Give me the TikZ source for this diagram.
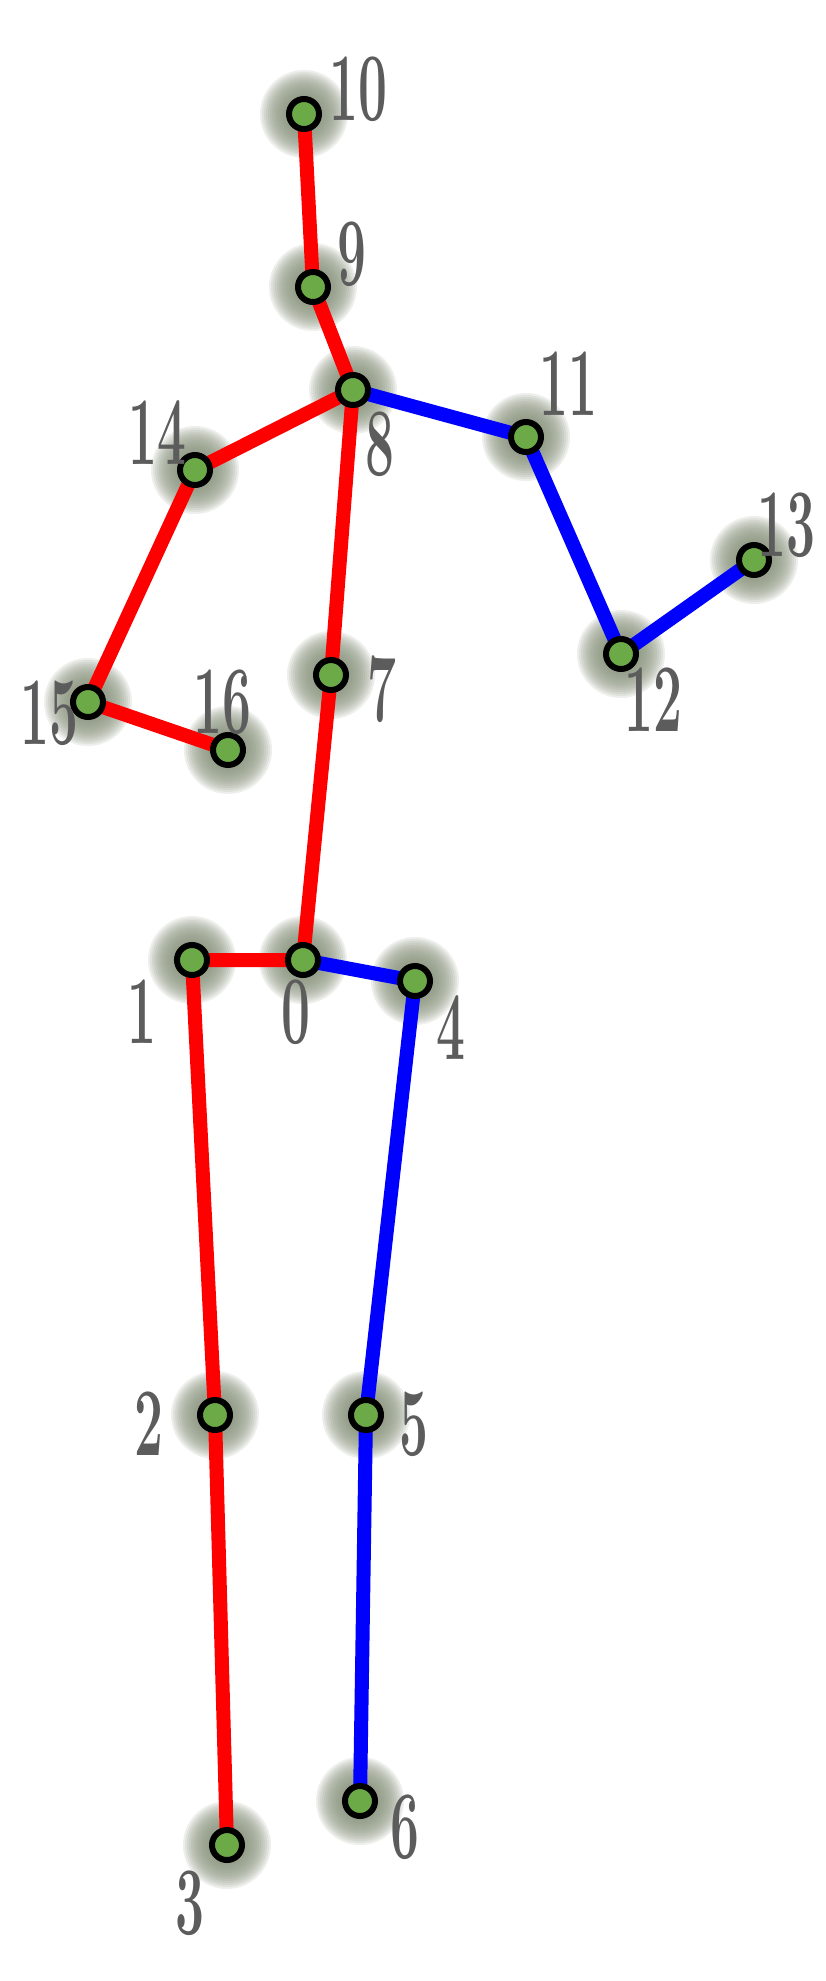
\documentclass[tikz,border=0pt]{standalone}
\usetikzlibrary{backgrounds}

\definecolor{jointgreen}{RGB}{108,170,72}
\definecolor{glowgray}{RGB}{138,148,126}
\definecolor{numgray}{RGB}{92,92,92}
\definecolor{bonered}{RGB}{255,0,0}
\definecolor{boneblue}{RGB}{0,0,255}

\tikzstyle{joint}=[shape=circle,draw=black,line width=6pt,fill=jointgreen,inner sep=0pt,minimum size=30pt]
\tikzstyle{num}=[text=numgray,inner sep=0pt,xscale=0.53,font=\fontsize{97}{97}\selectfont\bfseries]
\tikzstyle{redbone}=[draw=bonered,line width=14pt]
\tikzstyle{bluebone}=[draw=boneblue,line width=14pt]
\tikzstyle{glow}=[fill=glowgray,opacity=0.14]

\begin{document}
\begin{tikzpicture}[x=1pt,y=-1pt]
\useasboundingbox (0,0) rectangle (825,1981);
% joints
\node[joint] (j0) at (303,960) {};
\node[joint] (j1) at (192,960) {};
\node[joint] (j2) at (215,1415) {};
\node[joint] (j3) at (227,1845) {};
\node[joint] (j4) at (415,981) {};
\node[joint] (j5) at (366,1415) {};
\node[joint] (j6) at (360,1801) {};
\node[joint] (j7) at (331,675) {};
\node[joint] (j8) at (353,390) {};
\node[joint] (j9) at (313,287) {};
\node[joint] (j10) at (304,114) {};
\node[joint] (j11) at (526,437) {};
\node[joint] (j12) at (621,654) {};
\node[joint] (j13) at (754,560) {};
\node[joint] (j14) at (195,470) {};
\node[joint] (j15) at (88,702) {};
\node[joint] (j16) at (228,750) {};

% numbers
\node[num] (l0) at (296,1012) {0};
\node[num] (l1) at (142,1012) {1};
\node[num] (l2) at (149,1424) {2};
\node[num] (l3) at (190,1903) {3};
\node[num] (l4) at (451,1028) {4};
\node[num] (l5) at (414,1424) {5};
\node[num] (l6) at (405,1827) {6};
\node[num] (l7) at (382,689) {7};
\node[num] (l8) at (380,444) {8};
\node[num] (l9) at (352,254) {9};
\node[num] (l10) at (358,89) {10};
\node[num] (l11) at (568,384) {11};
\node[num] (l12) at (653,700) {12};
\node[num] (l13) at (786,525) {13};
\node[num] (l14) at (157,433) {14};
\node[num] (l15) at (49,713) {15};
\node[num] (l16) at (222,702) {16};

\begin{scope}[on background layer]
\fill[white] (0,0) rectangle (825,1981);
% soft glow round every joint
\foreach \j in {0,...,16}
    \foreach \r in {18,20,...,44}
        \fill[glow] (j\j.center) circle (\r);
% right side of the body
\draw[redbone] (j10.center) -- (j9.center) -- (j8.center) -- (j7.center) -- (j0.center) -- (j1.center) -- (j2.center) -- (j3.center);
\draw[redbone] (j8.center) -- (j14.center) -- (j15.center) -- (j16.center);
% left side of the body
\draw[bluebone] (j8.center) -- (j11.center) -- (j12.center) -- (j13.center);
\draw[bluebone] (j0.center) -- (j4.center) -- (j5.center) -- (j6.center);
\end{scope}
\end{tikzpicture}
\end{document}
